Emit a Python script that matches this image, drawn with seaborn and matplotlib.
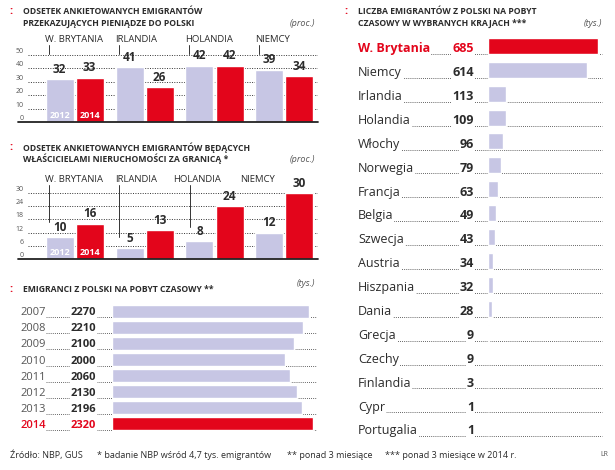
import matplotlib.pyplot as plt
import matplotlib.transforms as mtrans
import pandas as pd
import seaborn as sns

# --- dane ---
kraje = ['W. BRYTANIA', 'IRLANDIA', 'HOLANDIA', 'NIEMCY']
lata = ['2012', '2014']
przekazy_2012 = [32, 41, 42, 39]
przekazy_2014 = [33, 26, 42, 34]
nieruch_2012 = [10, 5, 8, 12]
nieruch_2014 = [16, 13, 24, 30]

lata_pobyt = ['2007', '2008', '2009', '2010', '2011', '2012', '2013', '2014']
emigranci = [2270, 2210, 2100, 2000, 2060, 2130, 2196, 2320]

kraje_pobyt = ['W. Brytania', 'Niemcy', 'Irlandia', 'Holandia', 'Włochy', 'Norwegia',
               'Francja', 'Belgia', 'Szwecja', 'Austria', 'Hiszpania', 'Dania',
               'Grecja', 'Czechy', 'Finlandia', 'Cypr', 'Portugalia']
liczba_pobyt = [685, 614, 113, 109, 96, 79, 63, 49, 43, 34, 32, 28, 9, 9, 3, 1, 1]

RED = '#e3051b'
LAV = '#c7c6e4'
TXT = '#2b2b2b'
GRAY = '#555555'
W, H = 615, 470

sns.set_theme(style='white')
plt.rcParams['font.family'] = ['Open Sans', 'DejaVu Sans']

fig = plt.figure(figsize=(W / 100, H / 100), dpi=100)


def box(x0, y0, x1, y1):
    return fig.add_axes([x0 / W, 1 - y1 / H, (x1 - x0) / W, (y1 - y0) / H])


def ftext(x, y, s, **kw):
    fig.text(x / W, 1 - y / H, s, **kw)


def title(x, y, lines, unit, ux):
    ftext(x - 14, y, ':', color=RED, fontsize=8, fontweight='bold', va='center')
    for i, line in enumerate(lines):
        ftext(x, y + i * 11, line, color=TXT, fontsize=6.2, fontweight='bold', va='center')
    ftext(ux, y + (len(lines) - 1) * 11 + 1, unit, color=GRAY, fontsize=6.5,
          style='italic', va='center', ha='right')


def grouped(ax, v2012, v2014, y0px, scale, ymax, ticks, lab_off, lab_y, lead_x, lead_top, lead_ends):
    df = pd.DataFrame({'kraj': kraje * 2, 'rok': ['2012'] * 4 + ['2014'] * 4,
                       'wartosc': v2012 + v2014})
    sns.barplot(data=df, x='kraj', y='wartosc', hue='rok', palette=[LAV, RED],
                width=0.86, gap=0.07, saturation=1, errorbar=None, legend=False, ax=ax)
    ax.set_xlim(-0.667, 3.48)
    ax.set_ylim(0, ymax)
    ax.set_yticks(ticks)
    ax.yaxis.grid(True, ls=(0, (1, 1.5)), color='#333333', lw=0.7)
    ax.set_axisbelow(True)
    ax.tick_params(axis='y', length=0, pad=3, labelsize=5, labelcolor=GRAY)
    for lbl in ax.get_yticklabels():
        lbl.set_va('bottom')
    ax.set_xticks([])
    ax.set_xlabel('')
    ax.set_ylabel('')
    sns.despine(ax=ax, left=True, bottom=True)
    trans = mtrans.blended_transform_factory(fig.transFigure, ax.transData)
    ax.plot([18 / W, 318 / W], [0, 0], transform=trans, color='#222222', lw=1.3, clip_on=False)
    for cont in ax.containers:
        ax.bar_label(cont, padding=2.5, fontsize=8.5, fontweight='bold', color=TXT)
    for cont, rok in zip(ax.containers, lata):
        p = cont.patches[0]
        ax.annotate(rok, (p.get_x() + p.get_width() / 2, 0), xytext=(0, 1.5),
                    textcoords='offset points', ha='center', va='bottom',
                    fontsize=6.5, fontweight='bold', color='white')
    to_data = lambda py: (y0px - py) / scale
    for i, name in enumerate(kraje):
        ax.text(i + lab_off[i], to_data(lab_y), name, fontsize=6.8, color=TXT,
                va='center', ha='left', clip_on=False)
        if lead_ends[i] is not None:
            ax.plot([i + lead_x[i]] * 2, [to_data(lead_top), lead_ends[i]],
                    color='#333333', lw=0.7, clip_on=False)


# panel 1
title(23, 12, ['ODSETEK ANKIETOWANYCH EMIGRANTÓW', 'PRZEKAZUJĄCYCH PIENIĄDZE DO POLSKI'],
      '(proc.)', 315)
ax1 = box(28, 42, 318, 122)
grouped(ax1, przekazy_2012, przekazy_2014, 122, 1.34, 80 / 1.34, [0, 10, 20, 30, 40, 50],
        [-0.42] * 4, 40, [-0.364] * 4, 45, [51, 51, 51, 51])

# panel 2
title(23, 148, ['ODSETEK ANKIETOWANYCH EMIGRANTÓW BĘDĄCYCH',
                'WŁAŚCICIELAMI NIERUCHOMOŚCI ZA GRANICĄ *'], '(proc.)', 315)
ax2 = box(28, 186, 318, 259)
grouped(ax2, nieruch_2012, nieruch_2014, 259, 2.2, 73 / 2.2, [0, 6, 12, 18, 24, 30],
        [-0.42, -0.42, -0.59, -0.63], 180, [-0.364, -0.364, -0.35, -0.35], 185,
        [10 + 7, 5 + 5, 8 + 6.5, None])

# panel 3
title(23, 289, ['EMIGRANCI Z POLSKI NA POBYT CZASOWY **'], '', 315)
ftext(315, 283, '(tys.)', color=GRAY, fontsize=6.5, style='italic', va='center', ha='right')
ax3 = box(112, 303, 316, 432)
kol3 = {r: (RED if r == '2014' else LAV) for r in lata_pobyt}
sns.barplot(x=emigranci, y=lata_pobyt, hue=lata_pobyt, palette=kol3, orient='h',
            width=0.8, saturation=1, legend=False, ax=ax3)
ax3.set_xlim(0, 2320 * 204 / 201)
ax3.set_ylim(len(lata_pobyt) - 0.5, -0.5)
ax3.axis('off')
t3 = mtrans.blended_transform_factory(fig.transFigure, ax3.transData)
for i, (rok, v) in enumerate(zip(lata_pobyt, emigranci)):
    c = RED if rok == '2014' else GRAY
    cv = RED if rok == '2014' else TXT
    ax3.plot([44 / W, 316 / W], [i + 0.38, i + 0.38], transform=t3, ls=(0, (1, 1.5)),
             lw=0.6, color='#333333', clip_on=False, zorder=0.5)
    ax3.text(20 / W, i + 0.1, rok, transform=t3, fontsize=8, color=c, va='center',
             fontweight='semibold' if rok == '2014' else 'normal',
             bbox=dict(fc='white', ec='none', pad=0.6))
    ax3.text(96 / W, i + 0.1, f'{v}', transform=t3, fontsize=8, color=cv, va='center',
             ha='right', fontweight='bold', bbox=dict(fc='white', ec='none', pad=0.6))

# panel 4
title(358, 12, ['LICZBA EMIGRANTÓW Z POLSKI NA POBYT', 'CZASOWY W WYBRANYCH KRAJACH ***'],
      '(tys.)', 602)
ax4 = box(488, 34, 602, 440)
kol4 = {k: (RED if k == 'W. Brytania' else LAV) for k in kraje_pobyt}
sns.barplot(x=liczba_pobyt, y=kraje_pobyt, hue=kraje_pobyt, palette=kol4, orient='h',
            width=0.67, saturation=1, legend=False, ax=ax4)
ax4.set_xlim(0, 685 * 114 / 110)
ax4.set_ylim(len(kraje_pobyt) - 0.5, -0.5)
ax4.axis('off')
t4 = mtrans.blended_transform_factory(fig.transFigure, ax4.transData)
for i, (k, v) in enumerate(zip(kraje_pobyt, liczba_pobyt)):
    first = k == 'W. Brytania'
    ax4.plot([360 / W, 602 / W], [i + 0.34, i + 0.34], transform=t4, ls=(0, (1, 1.5)),
             lw=0.6, color='#333333', clip_on=False, zorder=0.5)
    ax4.text(358 / W, i + 0.12, k, transform=t4, fontsize=9, va='center',
             color=RED if first else TXT, fontweight='bold' if first else 'normal',
             bbox=dict(fc='white', ec='none', pad=0.6))
    ax4.text(474 / W, i + 0.12, f'{v}', transform=t4, fontsize=9, va='center', ha='right',
             color=RED if first else TXT, fontweight='bold',
             bbox=dict(fc='white', ec='none', pad=0.6))

# stopka
ftext(10, 455, 'Źródło: NBP, GUS', fontsize=6.5, color=TXT, va='center')
ftext(97, 455, '* badanie NBP wśród 4,7 tys. emigrantów', fontsize=6.5, color=TXT, va='center')
ftext(287, 455, '** ponad 3 miesiące', fontsize=6.5, color=TXT, va='center')
ftext(385, 455, '*** ponad 3 miesiące w 2014 r.', fontsize=6.5, color=TXT, va='center')
ftext(600, 455, 'LR', fontsize=5, color=GRAY, va='center')

fig.savefig('out.png', dpi=100)
